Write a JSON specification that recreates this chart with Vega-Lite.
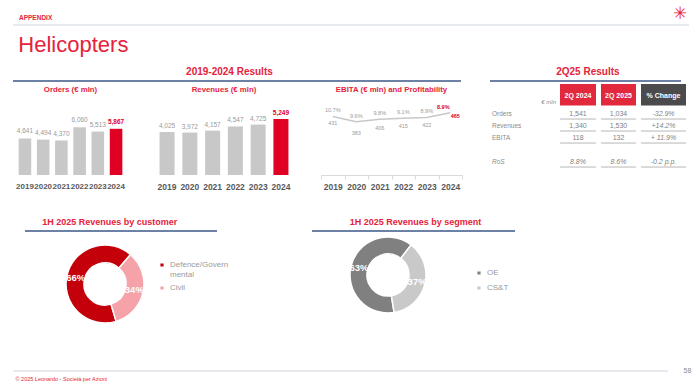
{
  "$schema": "https://vega.github.io/schema/vega-lite/v6.json",
  "background": "white",
  "padding": {"left": 12, "top": 5, "right": 0, "bottom": 0},
  "config": {
    "view": {"stroke": null},
    "font": "Liberation Sans",
    "title": {"font": "Liberation Sans", "color": "#e4233b"},
    "axis": {"labelFont": "Liberation Sans"},
    "legend": {"labelFont": "Liberation Sans"}
  },
  "resolve": {"scale": {"color": "independent", "theta": "independent"}, "legend": {"color": "independent"}},
  "datasets": {
    "lines": [{"v": 0}],
    "orders": [
      {"year": "2019", "value": 4641}, {"year": "2020", "value": 4494}, {"year": "2021", "value": 4370},
      {"year": "2022", "value": 6060}, {"year": "2023", "value": 5513}, {"year": "2024", "value": 5867}
    ],
    "revenues": [
      {"year": "2019", "value": 4025}, {"year": "2020", "value": 3972}, {"year": "2021", "value": 4157},
      {"year": "2022", "value": 4547}, {"year": "2023", "value": 4725}, {"year": "2024", "value": 5249}
    ],
    "ebita": [
      {"year": "2019", "ebita": 431, "ros": 0.107}, {"year": "2020", "ebita": 383, "ros": 0.096},
      {"year": "2021", "ebita": 406, "ros": 0.098}, {"year": "2022", "ebita": 415, "ros": 0.091},
      {"year": "2023", "ebita": 422, "ros": 0.089}, {"year": "2024", "ebita": 465, "ros": 0.089}
    ],
    "table": [
      {"col": "label", "row": "h2", "v": "€ mln"},
      {"col": "label", "row": "Orders", "v": "Orders"},
      {"col": "label", "row": "Revenues", "v": "Revenues"},
      {"col": "label", "row": "EBITA", "v": "EBITA"},
      {"col": "label", "row": "RoS", "v": "RoS"},
      {"col": "2Q 2024", "row": "h1", "v": "2Q 2024"},
      {"col": "2Q 2024", "row": "Orders", "v": "1,541"},
      {"col": "2Q 2024", "row": "Revenues", "v": "1,340"},
      {"col": "2Q 2024", "row": "EBITA", "v": "118"},
      {"col": "2Q 2024", "row": "RoS", "v": "8.8%"},
      {"col": "2Q 2025", "row": "h1", "v": "2Q 2025"},
      {"col": "2Q 2025", "row": "Orders", "v": "1,034"},
      {"col": "2Q 2025", "row": "Revenues", "v": "1,530"},
      {"col": "2Q 2025", "row": "EBITA", "v": "132"},
      {"col": "2Q 2025", "row": "RoS", "v": "8.6%"},
      {"col": "% Change", "row": "h1", "v": "% Change"},
      {"col": "% Change", "row": "Orders", "v": "-32.9%"},
      {"col": "% Change", "row": "Revenues", "v": "+14.2%"},
      {"col": "% Change", "row": "EBITA", "v": "+ 11.9%"},
      {"col": "% Change", "row": "RoS", "v": "-0.2 p.p."}
    ],
    "customer": [
      {"segment": "Defence/Governmental", "share": 0.66},
      {"segment": "Civil", "share": 0.34}
    ],
    "segment": [
      {"segment": "OE", "share": 0.63},
      {"segment": "CS&T", "share": 0.37}
    ]
  },
  "spacing": 0,
  "vconcat": [
    {
      "width": 676, "height": 1,
      "data": {"name": "lines"},
      "layer": [
        {"mark": {"type": "rule", "color": "#cfd6df", "strokeWidth": 1},
          "encoding": {"y": {"field": "v", "type": "quantitative", "axis": null, "scale": {"domain": [0, 1]}}}},
        {"mark": {"type": "text", "text": "APPENDIX", "align": "left", "baseline": "alphabetic", "dx": 6, "fontSize": 6.5, "fontWeight": "bold", "color": "#e4233b"},
          "encoding": {
            "x": {"datum": 0, "type": "quantitative", "scale": {"domain": [0, 1]}, "axis": null},
            "y": {"datum": 5, "type": "quantitative", "axis": null, "scale": {"domain": [0, 1]}}
          }},
        {"mark": {"type": "text", "text": "✳", "font": "DejaVu Sans", "fontSize": 17, "color": "#e4233b"},
          "encoding": {
            "x": {"datum": 0.987, "type": "quantitative", "scale": {"domain": [0, 1]}, "axis": null},
            "y": {"datum": 11, "type": "quantitative", "axis": null, "scale": {"domain": [0, 1]}}
          }}
      ]
    },
    {"width": 1, "height": 8, "data": {"values": []}, "mark": "rule", "encoding": {}},
    {
      "title": {"text": "Helicopters", "anchor": "start", "fontSize": 22, "fontWeight": "normal", "dx": 6, "offset": 10},
      "spacing": 26,
      "hconcat": [
        {
          "title": {"text": "2019-2024 Results", "anchor": "middle", "fontSize": 10, "fontWeight": "bold", "dx": -8, "offset": 3},
          "spacing": 4,
          "vconcat": [
            {
              "width": 448, "height": 1,
              "data": {"name": "lines"},
              "mark": {"type": "rule", "color": "#3d5687", "strokeWidth": 1.3},
              "encoding": {"y": {"field": "v", "type": "quantitative", "axis": null, "scale": {"domain": [0, 1]}}}
            },
            {
              "spacing": 27,
              "hconcat": [
                {
                  "width": 115, "height": 76,
                  "data": {"name": "orders"},
                  "title": {"text": "Orders (€ mln)", "fontSize": 7.8, "fontWeight": "bold", "offset": 5},
                  "encoding": {
                    "x": {"field": "year", "type": "ordinal", "scale": {"paddingInner": 0.31, "paddingOuter": 0.31},
                      "axis": {"title": null, "domain": false, "ticks": false, "labelFontSize": 8, "labelFontWeight": "bold", "labelColor": "#595959", "labelPadding": 7, "labelAngle": 0, "labelOverlap": false}},
                    "y": {"field": "value", "type": "quantitative", "scale": {"domain": [0, 9650]}, "axis": null}
                  },
                  "layer": [
                    {"mark": {"type": "bar"}, "encoding": {"color": {"condition": {"test": "datum.year == '2024'", "value": "#df0024"}, "value": "#c8c8c8"}}},
                    {"transform": [{"filter": "datum.year != '2024'"}], "mark": {"type": "text", "dy": -4, "baseline": "bottom", "fontSize": 6.5, "color": "#9a9a9a"}, "encoding": {"text": {"field": "value", "format": ",d"}}},
                    {"transform": [{"filter": "datum.year == '2024'"}], "mark": {"type": "text", "dy": -4, "baseline": "bottom", "fontSize": 6.5, "fontWeight": "bold", "color": "#df0024"}, "encoding": {"text": {"field": "value", "format": ",d"}}}
                  ]
                },
                {
                  "width": 138, "height": 76,
                  "data": {"name": "revenues"},
                  "title": {"text": "Revenues (€ mln)", "fontSize": 7.8, "fontWeight": "bold", "offset": 5},
                  "encoding": {
                    "x": {"field": "year", "type": "ordinal", "scale": {"paddingInner": 0.34, "paddingOuter": 0.2},
                      "axis": {"title": null, "domain": false, "ticks": false, "labelFontSize": 8.5, "labelFontWeight": "bold", "labelColor": "#595959", "labelPadding": 7, "labelAngle": 0, "labelOverlap": false}},
                    "y": {"field": "value", "type": "quantitative", "scale": {"domain": [0, 7120]}, "axis": null}
                  },
                  "layer": [
                    {"mark": {"type": "bar"}, "encoding": {"color": {"condition": {"test": "datum.year == '2024'", "value": "#df0024"}, "value": "#c8c8c8"}}},
                    {"transform": [{"filter": "datum.year != '2024'"}], "mark": {"type": "text", "dy": -3, "baseline": "bottom", "fontSize": 6.5, "color": "#9a9a9a"}, "encoding": {"text": {"field": "value", "format": ",d"}}},
                    {"transform": [{"filter": "datum.year == '2024'"}], "mark": {"type": "text", "dy": -3, "baseline": "bottom", "fontSize": 6.5, "fontWeight": "bold", "color": "#df0024"}, "encoding": {"text": {"field": "value", "format": ",d"}}}
                  ]
                },
                {
                  "width": 141, "height": 76,
                  "data": {"name": "ebita"},
                  "title": {"text": "EBITA (€ mln) and Profitability", "fontSize": 7.8, "fontWeight": "bold", "offset": 5},
                  "encoding": {
                    "x": {"field": "year", "type": "ordinal", "scale": {"paddingInner": 0, "paddingOuter": 0},
                      "axis": {"title": null, "domain": true, "domainColor": "#d9d9d9", "ticks": true, "tickColor": "#d9d9d9", "tickSize": 4, "tickBand": "extent", "labelFontSize": 8.5, "labelFontWeight": "bold", "labelColor": "#595959", "labelPadding": 3, "labelAngle": 0, "labelOverlap": false}}
                  },
                  "layer": [
                    {"mark": {"type": "line", "color": "#c8c8c8", "strokeWidth": 1.5},
                      "encoding": {"y": {"field": "ebita", "type": "quantitative", "scale": {"domain": [-108, 592]}, "axis": null}}},
                    {"transform": [{"filter": "datum.year != '2024'"}], "mark": {"type": "text", "dy": -6, "fontSize": 5.5, "color": "#9a9a9a"},
                      "encoding": {"y": {"field": "ebita", "type": "quantitative", "scale": {"domain": [-108, 592]}, "axis": null}, "text": {"field": "ros", "format": ".1%"}}},
                    {"transform": [{"filter": "datum.year == '2024'"}], "mark": {"type": "text", "dy": -6, "dx": -7, "fontSize": 5.5, "fontWeight": "bold", "color": "#df0024"},
                      "encoding": {"y": {"field": "ebita", "type": "quantitative", "scale": {"domain": [-108, 592]}, "axis": null}, "text": {"field": "ros", "format": ".1%"}}},
                    {"transform": [{"filter": "datum.year != '2024'"}], "mark": {"type": "text", "fontSize": 5.5, "color": "#9a9a9a"},
                      "encoding": {"y": {"field": "ebita", "type": "quantitative", "scale": {"domain": [176, 547]}, "axis": null}, "text": {"field": "ebita"}}},
                    {"transform": [{"filter": "datum.year == '2024'"}], "mark": {"type": "text", "dx": 5, "fontSize": 5.5, "fontWeight": "bold", "color": "#df0024"},
                      "encoding": {"y": {"field": "ebita", "type": "quantitative", "scale": {"domain": [176, 547]}, "axis": null}, "text": {"field": "ebita"}}}
                  ],
                  "resolve": {"scale": {"y": "independent"}}
                }
              ]
            }
          ]
        },
        {
          "title": {"text": "2Q25 Results", "anchor": "middle", "fontSize": 10, "fontWeight": "bold", "offset": 3},
          "spacing": 2,
          "vconcat": [
            {
              "width": 191, "height": 1,
              "data": {"name": "lines"},
              "mark": {"type": "rule", "color": "#3d5687", "strokeWidth": 1.3},
              "encoding": {"y": {"field": "v", "type": "quantitative", "axis": null, "scale": {"domain": [0, 1]}}}
            },
            {
              "spacing": 3,
              "hconcat": [
                {
                  "width": 66, "height": 84,
                  "data": {"name": "table"},
                  "transform": [{"filter": "datum.col == 'label'"}],
                  "encoding": {
                    "y": {"field": "row", "type": "nominal", "scale": {"domain": ["h1", "h2", "Orders", "Revenues", "EBITA", "gap", "RoS"], "paddingInner": 0, "paddingOuter": 0}, "axis": null},
                    "text": {"field": "v"}
                  },
                  "layer": [
                    {"transform": [{"filter": "datum.row != 'h2' && datum.row != 'RoS'"}], "mark": {"type": "text", "align": "left", "dx": 2, "fontSize": 6.5, "color": "#8c8c8c"},
                      "encoding": {"x": {"datum": 0, "type": "quantitative", "scale": {"domain": [0, 1]}, "axis": null}}},
                    {"transform": [{"filter": "datum.row == 'RoS'"}], "mark": {"type": "text", "align": "left", "dx": 2, "fontSize": 6.5, "fontStyle": "italic", "color": "#8c8c8c"},
                      "encoding": {"x": {"datum": 0, "type": "quantitative", "scale": {"domain": [0, 1]}, "axis": null}}},
                    {"transform": [{"filter": "datum.row == 'h2'"}], "mark": {"type": "text", "align": "right", "fontSize": 6, "fontStyle": "italic", "color": "#8c8c8c"},
                      "encoding": {"x": {"datum": 1, "type": "quantitative", "scale": {"domain": [0, 1]}, "axis": null}}}
                  ]
                },
                {
                  "width": 36, "height": 84,
                  "data": {"name": "table"},
                  "transform": [{"filter": "datum.col == '2Q 2024'"}],
                  "encoding": {
                    "y": {"field": "row", "type": "nominal", "scale": {"domain": ["h1", "h2", "Orders", "Revenues", "EBITA", "gap", "RoS"], "paddingInner": 0, "paddingOuter": 0}, "axis": null}
                  },
                  "layer": [
                    {"transform": [{"filter": "datum.row == 'h1'"}], "mark": {"type": "rect", "color": "#e1283d"},
                      "encoding": {"y": {"field": "row", "type": "nominal", "bandPosition": 0}, "y2": {"datum": "h2", "bandPosition": 0.8}}},
                    {"transform": [{"filter": "datum.row == 'h1'"}], "mark": {"type": "text", "color": "white", "fontSize": 7, "fontWeight": "bold"},
                      "encoding": {"y": {"field": "row", "type": "nominal", "bandPosition": 1}, "text": {"field": "v"}}},
                    {"transform": [{"filter": "datum.row != 'h1' && datum.row != 'RoS'"}], "mark": {"type": "text", "color": "#7f7f7f", "fontSize": 7}, "encoding": {"text": {"field": "v"}}},
                    {"transform": [{"filter": "datum.row == 'RoS'"}], "mark": {"type": "text", "color": "#7f7f7f", "fontSize": 7, "fontStyle": "italic"}, "encoding": {"text": {"field": "v"}}},
                    {"transform": [{"filter": "datum.row != 'h1'"}], "mark": {"type": "rule", "color": "#a6a6a6", "strokeWidth": 0.8},
                      "encoding": {"y": {"field": "row", "type": "nominal", "bandPosition": 0.92}}}
                  ]
                },
                {
                  "width": 35, "height": 84,
                  "data": {"name": "table"},
                  "transform": [{"filter": "datum.col == '2Q 2025'"}],
                  "encoding": {
                    "y": {"field": "row", "type": "nominal", "scale": {"domain": ["h1", "h2", "Orders", "Revenues", "EBITA", "gap", "RoS"], "paddingInner": 0, "paddingOuter": 0}, "axis": null}
                  },
                  "layer": [
                    {"transform": [{"filter": "datum.row == 'h1'"}], "mark": {"type": "rect", "color": "#e1283d"},
                      "encoding": {"y": {"field": "row", "type": "nominal", "bandPosition": 0}, "y2": {"datum": "h2", "bandPosition": 0.8}}},
                    {"transform": [{"filter": "datum.row == 'h1'"}], "mark": {"type": "text", "color": "white", "fontSize": 7, "fontWeight": "bold"},
                      "encoding": {"y": {"field": "row", "type": "nominal", "bandPosition": 1}, "text": {"field": "v"}}},
                    {"transform": [{"filter": "datum.row != 'h1' && datum.row != 'RoS'"}], "mark": {"type": "text", "color": "#7f7f7f", "fontSize": 7}, "encoding": {"text": {"field": "v"}}},
                    {"transform": [{"filter": "datum.row == 'RoS'"}], "mark": {"type": "text", "color": "#7f7f7f", "fontSize": 7, "fontStyle": "italic"}, "encoding": {"text": {"field": "v"}}},
                    {"transform": [{"filter": "datum.row != 'h1'"}], "mark": {"type": "rule", "color": "#a6a6a6", "strokeWidth": 0.8},
                      "encoding": {"y": {"field": "row", "type": "nominal", "bandPosition": 0.92}}}
                  ]
                },
                {
                  "width": 45, "height": 84,
                  "data": {"name": "table"},
                  "transform": [{"filter": "datum.col == '% Change'"}],
                  "encoding": {
                    "y": {"field": "row", "type": "nominal", "scale": {"domain": ["h1", "h2", "Orders", "Revenues", "EBITA", "gap", "RoS"], "paddingInner": 0, "paddingOuter": 0}, "axis": null}
                  },
                  "layer": [
                    {"transform": [{"filter": "datum.row == 'h1'"}], "mark": {"type": "rect", "color": "#4b4b4d"},
                      "encoding": {"y": {"field": "row", "type": "nominal", "bandPosition": 0}, "y2": {"datum": "h2", "bandPosition": 0.8}}},
                    {"transform": [{"filter": "datum.row == 'h1'"}], "mark": {"type": "text", "color": "white", "fontSize": 7, "fontWeight": "bold"},
                      "encoding": {"y": {"field": "row", "type": "nominal", "bandPosition": 1}, "text": {"field": "v"}}},
                    {"transform": [{"filter": "datum.row != 'h1'"}], "mark": {"type": "text", "color": "#7f7f7f", "fontSize": 7, "fontStyle": "italic"}, "encoding": {"text": {"field": "v"}}},
                    {"transform": [{"filter": "datum.row != 'h1'"}], "mark": {"type": "rule", "color": "#a6a6a6", "strokeWidth": 0.8},
                      "encoding": {"y": {"field": "row", "type": "nominal", "bandPosition": 0.92}}}
                  ]
                }
              ]
            }
          ]
        }
      ]
    },
    {"width": 1, "height": 27, "data": {"values": []}, "mark": "rule", "encoding": {}},
    {
      "spacing": 0,
      "resolve": {"scale": {"color": "independent", "theta": "independent"}, "legend": {"color": "independent"}},
      "hconcat": [
        {"width": 11, "height": 1, "data": {"values": []}, "mark": "rule", "encoding": {}},
        {
          "title": {"text": "1H 2025 Revenues by customer", "anchor": "middle", "fontSize": 9, "fontWeight": "bold", "dx": -17, "offset": 3},
          "spacing": 10,
          "vconcat": [
            {
              "width": 192, "height": 1,
              "data": {"name": "lines"},
              "mark": {"type": "rule", "color": "#3d5687", "strokeWidth": 1.3},
              "encoding": {"y": {"field": "v", "type": "quantitative", "axis": null, "scale": {"domain": [0, 1]}}}
            },
            {
              "width": 160, "height": 84,
              "data": {"name": "customer"},
              "encoding": {
                "theta": {"field": "share", "type": "quantitative", "stack": true, "scale": {"range": [0.716, 6.999]}},
                "order": {"field": "segment", "sort": "ascending"}
              },
              "layer": [
                {"mark": {"type": "arc", "innerRadius": 21, "outerRadius": 39, "stroke": "white", "strokeWidth": 1.5},
                  "encoding": {"color": {"field": "segment", "type": "nominal",
                    "scale": {"domain": ["Defence/Governmental", "Civil"], "range": ["#c4000b", "#f5a3a8"]},
                    "legend": {"title": null, "orient": "none", "legendX": 133, "legendY": 31, "symbolType": "square", "symbolSize": 22, "labelFontSize": 8, "labelColor": "#9a9a9a", "rowPadding": 3,
                      "labelExpr": "datum.label == 'Defence/Governmental' ? ['Defence/Govern', 'mental'] : datum.label"}}}},
                {"mark": {"type": "text", "radius": 30, "fontSize": 9.5, "fontWeight": "bold", "color": "white"},
                  "encoding": {"detail": {"field": "segment"}, "text": {"field": "share", "format": ".0%"}}}
              ]
            }
          ]
        },
        {"width": 82, "height": 1, "data": {"values": []}, "mark": "rule", "encoding": {}},
        {
          "title": {"text": "1H 2025 Revenues by segment", "anchor": "middle", "fontSize": 9, "fontWeight": "bold", "dx": 2, "offset": 3},
          "spacing": 1,
          "vconcat": [
            {
              "width": 203, "height": 1,
              "data": {"name": "lines"},
              "mark": {"type": "rule", "color": "#3d5687", "strokeWidth": 1.3},
              "encoding": {"y": {"field": "v", "type": "quantitative", "axis": null, "scale": {"domain": [0, 1]}}}
            },
            {
              "width": 152, "height": 84,
              "data": {"name": "segment"},
              "encoding": {
                "theta": {"field": "share", "type": "quantitative", "stack": true, "scale": {"range": [0.655, 6.938]}},
                "order": {"field": "segment", "sort": "ascending"}
              },
              "layer": [
                {"mark": {"type": "arc", "innerRadius": 21, "outerRadius": 38, "stroke": "white", "strokeWidth": 1.5},
                  "encoding": {"color": {"field": "segment", "type": "nominal",
                    "scale": {"domain": ["OE", "CS&T"], "range": ["#808080", "#c9c9c9"]},
                    "legend": {"title": null, "orient": "none", "legendX": 163, "legendY": 39, "symbolType": "square", "symbolSize": 22, "labelFontSize": 8, "labelColor": "#9a9a9a", "rowPadding": 3}}}},
                {"mark": {"type": "text", "radius": 30, "fontSize": 9.5, "fontWeight": "bold", "color": "white"},
                  "encoding": {"detail": {"field": "segment"}, "text": {"field": "share", "format": ".0%"}}}
              ]
            }
          ]
        }
      ]
    },
    {"width": 1, "height": 40, "data": {"values": []}, "mark": "rule", "encoding": {}},
    {
      "spacing": 14,
      "hconcat": [
        {
          "width": 655, "height": 1,
          "data": {"name": "lines"},
          "title": {"text": "© 2025 Leonardo - Società per Azioni", "orient": "bottom", "anchor": "start", "fontSize": 5.5, "fontWeight": "normal", "color": "#e4233b", "offset": 5, "dx": 3},
          "mark": {"type": "rule", "color": "#cfd6df", "strokeWidth": 1},
          "encoding": {"y": {"field": "v", "type": "quantitative", "axis": null, "scale": {"domain": [0, 1]}}}
        },
        {
          "width": 9, "height": 1,
          "data": {"values": [{"p": "58"}]},
          "mark": {"type": "text", "fontSize": 7, "color": "#8c8c8c"},
          "encoding": {"text": {"field": "p"}}
        }
      ]
    }
  ]
}
